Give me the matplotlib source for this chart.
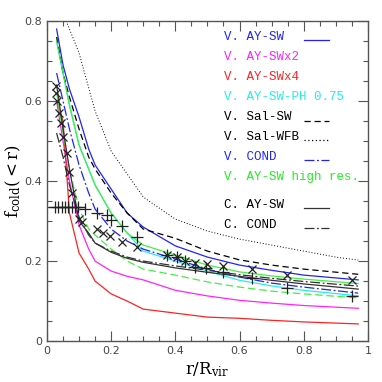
import matplotlib
matplotlib.use("Agg")
import matplotlib.pyplot as plt
from matplotlib.ticker import MultipleLocator

plt.rcParams["mathtext.fontset"] = "dejavuserif"

# radius grid of the model curves (r / R_vir)
r = [0.03, 0.05, 0.07, 0.1, 0.13, 0.15, 0.2, 0.25, 0.3, 0.4, 0.5, 0.6, 0.7, 0.8, 0.97]

ay_sw      = [0.78, 0.69, 0.63, 0.56, 0.48, 0.44, 0.38, 0.32, 0.285, 0.238, 0.21, 0.19, 0.177, 0.165, 0.153]
ay_swx2    = [0.60, 0.50, 0.40, 0.29, 0.23, 0.20, 0.175, 0.162, 0.153, 0.127, 0.113, 0.102, 0.095, 0.089, 0.082]
ay_swx4    = [0.60, 0.55, 0.32, 0.22, 0.18, 0.15, 0.118, 0.10, 0.08, 0.07, 0.06, 0.057, 0.052, 0.048, 0.043]
ay_sw_ph   = [0.75, 0.67, 0.59, 0.49, 0.43, 0.39, 0.32, 0.27, 0.225, 0.20, 0.175, 0.152, 0.138, 0.127, 0.113]
sal_sw     = [0.76, 0.67, 0.61, 0.53, 0.46, 0.43, 0.37, 0.32, 0.28, 0.257, 0.225, 0.203, 0.19, 0.18, 0.167]
cond       = [0.67, 0.60, 0.53, 0.44, 0.37, 0.33, 0.28, 0.25, 0.23, 0.205, 0.18, 0.16, 0.145, 0.135, 0.12]
ay_sw_hr   = [0.75, 0.67, 0.59, 0.49, 0.43, 0.39, 0.32, 0.27, 0.24, 0.215, 0.19, 0.173, 0.163, 0.155, 0.144]
ay_sw_hr2  = [0.62, 0.52, 0.43, 0.33, 0.28, 0.265, 0.23, 0.20, 0.18, 0.165, 0.148, 0.135, 0.125, 0.118, 0.108]
c_ay_sw    = [0.64, 0.53, 0.43, 0.30, 0.27, 0.245, 0.222, 0.207, 0.197, 0.183, 0.172, 0.162, 0.152, 0.143, 0.13]
c_cond     = [0.52, 0.46, 0.39, 0.31, 0.265, 0.245, 0.225, 0.21, 0.20, 0.188, 0.177, 0.166, 0.157, 0.149, 0.1375]

r_wfb   = [0.06, 0.08, 0.1, 0.15, 0.2, 0.3, 0.4, 0.5, 0.6, 0.7, 0.8, 0.9, 0.97]
sal_wfb = [0.80, 0.76, 0.72, 0.575, 0.475, 0.36, 0.305, 0.275, 0.255, 0.24, 0.225, 0.21, 0.2025]

# data points
x_cross = [0.028, 0.029, 0.031, 0.038, 0.044, 0.051, 0.061, 0.07, 0.077, 0.1, 0.11, 0.155, 0.175,
           0.196, 0.233, 0.279, 0.373, 0.404, 0.43, 0.461, 0.5, 0.55, 0.638, 0.749, 0.95]
y_cross = [0.637, 0.62, 0.60, 0.57, 0.545, 0.51, 0.47, 0.423, 0.37, 0.304, 0.298, 0.28, 0.27,
           0.263, 0.248, 0.236, 0.216, 0.209, 0.20, 0.196, 0.192, 0.187, 0.18, 0.166, 0.152]
x_plus = [0.025, 0.035, 0.046, 0.056, 0.066, 0.077, 0.087, 0.098, 0.118, 0.155, 0.186, 0.2, 0.233,
          0.279, 0.373, 0.404, 0.43, 0.461, 0.497, 0.55, 0.638, 0.749, 0.95]
y_plus = [0.335, 0.335, 0.335, 0.335, 0.335, 0.335, 0.335, 0.335, 0.33, 0.32, 0.315, 0.3025, 0.288,
          0.259, 0.214, 0.209, 0.2, 0.186, 0.182, 0.173, 0.157, 0.134, 0.1125]

fig = plt.figure(figsize=(3.82, 3.82), dpi=100)
ax = fig.add_axes([0.123, 0.107, 0.840, 0.838])

lw = 0.9
ax.plot(r, ay_sw, color="#2222ff", lw=lw)
ax.plot(r, ay_swx2, color="#ff22ff", lw=lw)
ax.plot(r, ay_swx4, color="#ff2222", lw=lw)
ax.plot(r, ay_sw_ph, color="#22eeee", lw=lw)
ax.plot(r, sal_sw, color="black", lw=lw, ls=(0, (5, 3)))
ax.plot(r_wfb, sal_wfb, color="black", lw=0.7, ls=(0, (1, 2)))
ax.plot(r, cond, color="#2222ff", lw=lw, ls=(0, (8, 2, 1.5, 2)))
ax.plot(r, ay_sw_hr, color="#44ee44", lw=lw)
ax.plot(r, ay_sw_hr2, color="#44ee44", lw=lw, ls=(0, (6, 3)))
ax.plot(r, c_ay_sw, color="#333333", lw=lw)
ax.plot(r, c_cond, color="#333333", lw=lw, ls=(0, (8, 2, 1.5, 2)))

ax.plot([0.0, 0.12], [0.335, 0.335], color="#333333", lw=lw)
ax.plot(x_cross, y_cross, ls="none", marker="x", ms=5.5, mew=0.9, color="#222222")
ax.plot(x_plus, y_plus, ls="none", marker="+", ms=9, mew=0.9, color="#222222")

# legend written as text, like the original
font = {"family": "Liberation Mono", "size": 9}
labels = ["V. AY-SW", "V. AY-SWx2", "V. AY-SWx4", "V. AY-SW-PH 0.75", "V. Sal-SW",
          "V. Sal-WFB", "V. COND", "V. AY-SW high res.", "C. AY-SW", "C. COND"]
colors = ["#2222ff", "#ff22ff", "#ff2222", "#22eeee", "black", "black", "#2222ff",
          "#22ee22", "black", "black"]
ypos = [0.761, 0.711, 0.661, 0.609, 0.559, 0.511, 0.461, 0.411, 0.34, 0.29]
samples = {0: ("#2222ff", "-"), 4: ("black", (0, (5, 3))), 5: ("black", (0, (1, 2))),
           6: ("#2222ff", (0, (8, 2, 1.5, 2))), 8: ("#333333", "-"),
           9: ("#333333", (0, (8, 2, 1.5, 2)))}
for i, lab in enumerate(labels):
    ax.text(0.551, ypos[i], lab, color=colors[i], fontdict=font, va="center")
    if i in samples:
        c, s = samples[i]
        ax.plot([0.80, 0.88], [ypos[i] - 0.008] * 2, color=c, ls=s, lw=lw)

ax.set_xlim(0, 1)
ax.set_ylim(0, 0.8)
ax.xaxis.set_minor_locator(MultipleLocator(0.05))
ax.yaxis.set_minor_locator(MultipleLocator(0.05))
ax.set_xticks([0, 0.2, 0.4, 0.6, 0.8, 1.0])
ax.set_xticklabels(["0", "0.2", "0.4", "0.6", "0.8", "1"])
ax.set_yticks([0, 0.2, 0.4, 0.6, 0.8])
ax.set_yticklabels(["0", "0.2", "0.4", "0.6", "0.8"])
ax.tick_params(which="both", direction="in", top=True, right=True, colors="#555555",
               labelcolor="#444444", labelsize=8)
ax.tick_params(which="major", length=7, width=0.8)
ax.tick_params(which="minor", length=3.5, width=0.8)
for s in ax.spines.values():
    s.set_color("#555555")
    s.set_linewidth(1.0)

ax.set_xlabel(r"$\mathrm{r/R_{vir}}$", fontsize=12, labelpad=3)
ax.set_ylabel(r"$\mathrm{f_{cold}(<r)}$", fontsize=12, labelpad=1)

fig.savefig("out.png", dpi=100)
